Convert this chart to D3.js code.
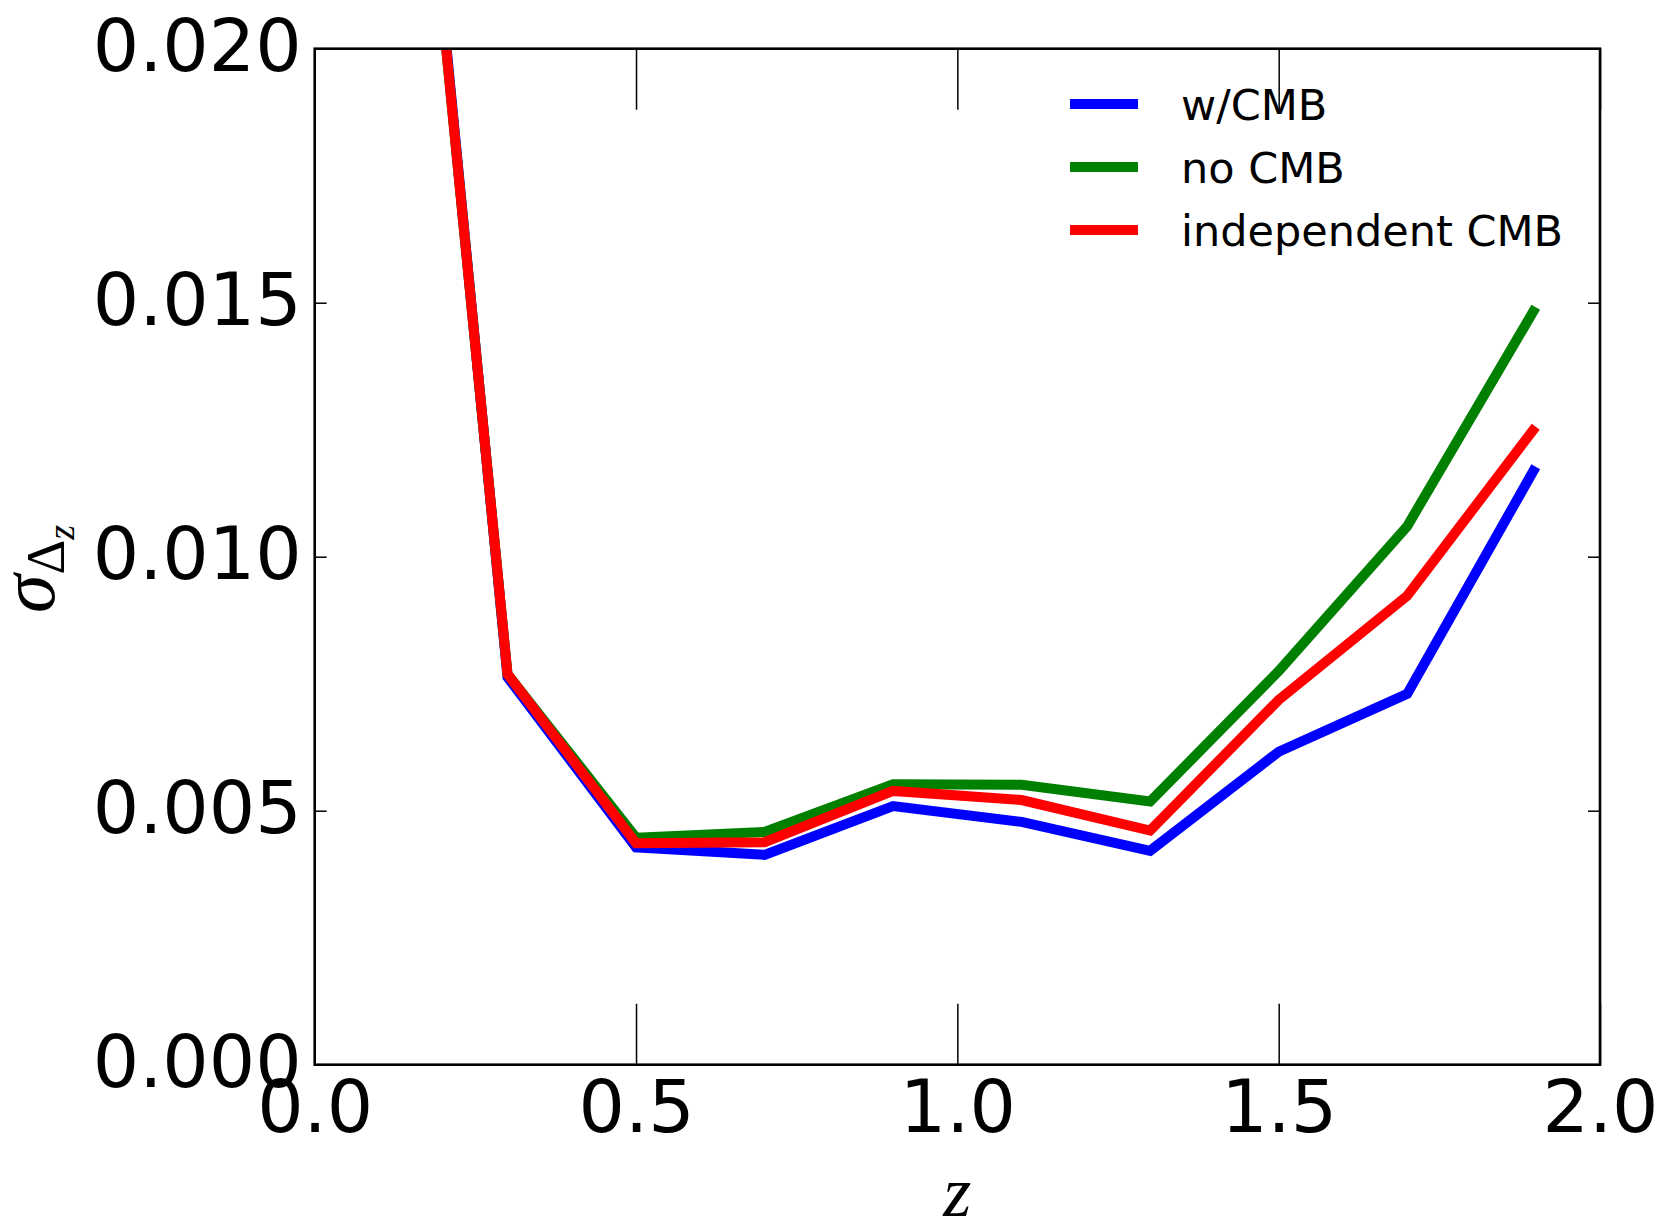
<!DOCTYPE html>
<html>
<head>
<meta charset="utf-8">
<script src="https://d3js.org/d3.v7.min.js"></script>
<style>
  body { margin: 0; background: #fff; }
  text { font-family: "DejaVu Sans", sans-serif; fill: #000; }
  .math { font-family: "Liberation Serif", "DejaVu Serif", serif; }
</style>
</head>
<body>
<div id="chart"></div>
<script>
// redshift bins
var zValues = [0.2, 0.3, 0.5, 0.7, 0.9, 1.1, 1.3, 1.5, 1.7, 1.9];

// sigma_Delta_z per bin
var wCMB     = [0.0207, 0.00763, 0.00428, 0.00413, 0.00509, 0.00478, 0.00421, 0.00616, 0.00730, 0.01177];
var noCMB    = [0.0206, 0.00769, 0.00447, 0.00458, 0.00552, 0.00551, 0.00518, 0.00775, 0.01060, 0.01491];
var indepCMB = [0.0206, 0.00769, 0.00436, 0.00438, 0.00539, 0.00521, 0.00461, 0.00718, 0.00923, 0.01256];

var seriesNames  = ["w/CMB", "no CMB", "independent CMB"];
var seriesColors = ["#0000ff", "#008000", "#ff0000"];
var seriesValues = [wCMB, noCMB, indepCMB];

var xTicks = [0.0, 0.5, 1.0, 1.5, 2.0];
var yTicks = [0.000, 0.005, 0.010, 0.015, 0.020];

var W = 1656, H = 1223;
// note: "top" is taken by window.top, so use plot* names
var plotLeft = 314.7, plotRight = 1600, plotTop = 48.7, plotBottom = 1064.7;

var svg = d3.select("#chart")
    .append("svg")
    .attr("width", W)
    .attr("height", H);

var x = d3.scaleLinear().domain([0, 2]).range([plotLeft, plotRight]);
var y = d3.scaleLinear().domain([0, 0.02]).range([plotBottom, plotTop]);

// clip the curves to the axes box
svg.append("clipPath").attr("id", "plotclip")
  .append("rect")
    .attr("x", plotLeft).attr("y", plotTop)
    .attr("width", plotRight - plotLeft).attr("height", plotBottom - plotTop);

var line = d3.line()
    .x(function(d) { return x(d[0]); })
    .y(function(d) { return y(d[1]); });

svg.append("g").attr("clip-path", "url(#plotclip)")
  .selectAll("path")
  .data(seriesValues)
  .enter().append("path")
    .attr("d", function(vals) { return line(zValues.map(function(z, i) { return [z, vals[i]]; })); })
    .attr("fill", "none")
    .attr("stroke", function(d, i) { return seriesColors[i]; })
    .attr("stroke-width", 10)
    .attr("stroke-linejoin", "miter");

// axes: long ticks on x, short on y, all pointing inward
var xBottom = svg.append("g")
    .attr("transform", "translate(0," + plotBottom + ")")
    .call(d3.axisBottom(x).tickValues(xTicks).tickSizeInner(-61).tickSizeOuter(0)
        .tickFormat(d3.format(".1f")));
xBottom.selectAll("text")
    .attr("y", 0).attr("dy", 67)
    .style("font-size", "73px");

svg.append("g")
    .attr("transform", "translate(0," + plotTop + ")")
    .call(d3.axisTop(x).tickValues(xTicks).tickSizeInner(-61).tickSizeOuter(0).tickFormat(""));

var yLeft = svg.append("g")
    .attr("transform", "translate(" + plotLeft + ",0)")
    .call(d3.axisLeft(y).tickValues(yTicks).tickSizeInner(-12).tickSizeOuter(0)
        .tickFormat(d3.format(".3f")));
yLeft.selectAll("text")
    .attr("x", -13).attr("dy", "0.295em")
    .style("font-size", "73px");

svg.append("g")
    .attr("transform", "translate(" + plotRight + ",0)")
    .call(d3.axisRight(y).tickValues(yTicks).tickSizeInner(-12).tickSizeOuter(0).tickFormat(""));

svg.selectAll(".domain").remove();
svg.selectAll(".tick line").attr("stroke", "#000").attr("stroke-width", 1.5);
svg.selectAll(".tick text").attr("fill", "#000").style("font-family", "DejaVu Sans, sans-serif");

// frame
svg.append("rect")
    .attr("x", plotLeft).attr("y", plotTop)
    .attr("width", plotRight - plotLeft).attr("height", plotBottom - plotTop)
    .attr("fill", "none")
    .attr("stroke", "#000")
    .attr("stroke-width", 2.6);

// x label
svg.append("text")
    .attr("class", "math")
    .attr("x", (plotLeft + plotRight) / 2)
    .attr("y", 1216)
    .attr("text-anchor", "middle")
    .style("font-size", "72px")
    .style("font-style", "italic")
    .text("z");

// y label: sigma_{Delta_z}
var ylab = svg.append("text")
    .attr("class", "math")
    .attr("transform", "translate(54,569) rotate(-90)")
    .attr("text-anchor", "middle");
ylab.append("tspan").style("font-size", "78px").style("font-style", "italic").text("σ");
ylab.append("tspan").attr("dy", 10).style("font-size", "54px").text("Δ");
ylab.append("tspan").attr("dy", 10).style("font-size", "38px").style("font-style", "italic").text("z");

// legend, no frame
var legend = svg.append("g").selectAll("g")
    .data(seriesNames)
    .enter().append("g")
    .attr("transform", function(d, i) { return "translate(1070," + (104 + i * 63) + ")"; });

legend.append("line")
    .attr("x1", 0).attr("x2", 68)
    .attr("stroke", function(d, i) { return seriesColors[i]; })
    .attr("stroke-width", 10);

legend.append("text")
    .attr("x", 111).attr("y", 15.5)
    .style("font-size", "43px")
    .text(function(d) { return d; });
</script>
</body>
</html>
